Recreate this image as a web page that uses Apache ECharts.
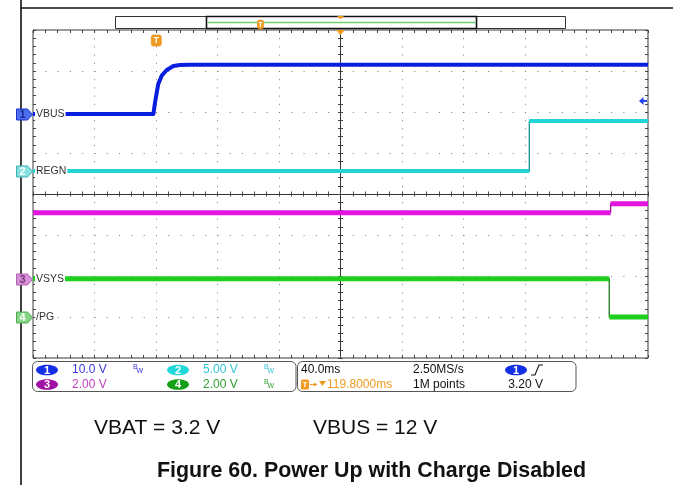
<!DOCTYPE html>
<html>
<head>
<meta charset="utf-8">
<script src="https://cdn.jsdelivr.net/npm/echarts@6/dist/echarts.min.js"></script>
<style>
  html, body { margin: 0; padding: 0; background: #fff; }
  #scope { width: 673px; height: 485px; }
</style>
</head>
<body>
<div id="scope"></div>
<script>
// Horizontal: time in ms relative to screen centre, 40 ms/div over 10 divisions.
const timeMin = -200, timeMax = 200, timePerDiv = 40;
// Vertical: 8 divisions, channel data mapped through V/div and offset (div).
const divMin = -4, divMax = 4;

const chNames   = ['VBUS', 'REGN', 'VSYS', '/PG'];
const chNumbers = ['1', '2', '3', '4'];
const chVoltsPerDiv = [10, 5, 2, 2];
const chOffsetDiv   = [1.95, 0.56, -2.07, -3.0];
const chScaleText   = ['10.0 V', '5.00 V', '2.00 V', '2.00 V'];
const chBandwidthLimit = [true, true, false, true];

// CH1 VBUS (V)
const vbusTime = [-200, -121.7, -120.6, -119.5, -118.5, -116.3, -113.0, -108.7, -104.4, -98.0, 200];
const vbusVolt = [0, 0, 2.87, 5.3, 7.34, 9.36, 10.75, 11.72, 11.95, 12.0, 12.0];
// CH2 REGN (V)
const regnTime = [-200, 122.8, 122.8, 200];
const regnVolt = [0, 0, 6.1, 6.1];
// CH3 VSYS (V)
const vsysTime = [-200, 175.7, 175.7, 200];
const vsysVolt = [3.23, 3.23, 3.67, 3.67];
// CH4 /PG (V)
const pgTime = [-200, 174.8, 174.8, 200];
const pgVolt = [1.87, 1.87, 0, 0];

// Acquisition / trigger settings
const timebaseText = '40.0ms';
const sampleRateText = '2.50MS/s';
const recordText = '1M points';
const triggerTime = -119.8;         // ms from centre
const triggerDelayText = '119.8000ms';
const triggerLevel = 3.2;           // V on CH1
const triggerLevelText = '3.20 V';

const noteVbat = 'VBAT = 3.2 V';
const noteVbus = 'VBUS = 12 V';
const figureTitle = 'Figure 60. Power Up with Charge Disabled';

const traceColor = ['#0a1ee0', '#22d4d4', '#e016e0', '#1ecf1e'];
const edgeColor  = ['#0a1490', '#178c8c', '#8e108e', '#177a17'];
const badgeFill  = ['#1430e6', '#22d8d8', '#a012a4', '#14a014'];
const scaleColor = ['#3838e0', '#30c6d6', '#c040c4', '#30a030'];
const markerFill = ['#4d6ef0', '#86e0e0', '#d890d8', '#86d486'];
const markerLine = ['#1a30c8', '#3ab0b0', '#b060b0', '#50a850'];
const markerText = ['#1a2a90', '#ffffff', '#7a3a7a', '#ffffff'];
const orange = '#f29a1e';
const FONT = '"Liberation Sans", Arial, sans-serif';

function toDiv(ch, v) { return v / chVoltsPerDiv[ch] + chOffsetDiv[ch]; }
function trace(ch, ts, vs) { return ts.map((t, i) => [t, toDiv(ch, vs[i])]); }
// Same path with a gap at each vertical edge (edges drawn thin separately)
function levels(ch, ts, vs) {
  const out = [];
  ts.forEach((t, i) => {
    if (i > 0 && t === ts[i - 1]) out.push([t, '-']);
    out.push([t, toDiv(ch, vs[i])]);
  });
  return out;
}

const chart = echarts.init(document.getElementById('scope'), null, { renderer: 'canvas' });

const hidden = { show: false };
function xAx(extra) {
  return Object.assign({
    type: 'value', min: timeMin, max: timeMax, interval: timePerDiv,
    axisLabel: hidden, splitLine: hidden
  }, extra);
}
function yAx(extra) {
  return Object.assign({
    type: 'value', min: divMin, max: divMax, interval: 1,
    axisLabel: hidden, splitLine: hidden
  }, extra);
}
const tickStyle = { color: '#444', width: 1 };

const option = {
  animation: false,
  backgroundColor: '#fff',
  grid: {
    left: 33, right: 25, top: 30, bottom: 127,
    show: true, borderColor: '#3a3a3a', borderWidth: 1, backgroundColor: '#fff'
  },
  xAxis: [
    // bottom border ticks + dotted vertical graticule
    xAx({ position: 'bottom', axisLine: { show: false, onZero: false },
      axisTick: { show: true, inside: true, length: 3, lineStyle: tickStyle },
      minorTick: { show: true, splitNumber: 5, length: 3, lineStyle: tickStyle },
      splitLine: { show: true, lineStyle: { color: '#7a7a7a', width: 1, type: [1, 7.2] } } }),
    // top border ticks
    xAx({ position: 'top', axisLine: { show: false, onZero: false },
      axisTick: { show: true, inside: true, length: 3, lineStyle: tickStyle },
      minorTick: { show: true, splitNumber: 5, length: 3, lineStyle: tickStyle } }),
    // centre horizontal line, ticks both sides
    xAx({ position: 'bottom', axisLine: { show: true, onZero: true, onZeroAxisIndex: 0, lineStyle: { color: '#333', width: 1 } },
      axisTick: { show: true, inside: true, length: 2.5, lineStyle: tickStyle },
      minorTick: { show: true, splitNumber: 5, length: 2.5, lineStyle: tickStyle } }),
    xAx({ position: 'bottom', axisLine: { show: false, onZero: true, onZeroAxisIndex: 0 },
      axisTick: { show: true, inside: false, length: 2.5, lineStyle: tickStyle },
      minorTick: { show: true, splitNumber: 5, length: 2.5, lineStyle: tickStyle } })
  ],
  yAxis: [
    yAx({ position: 'left', axisLine: { show: false, onZero: false },
      axisTick: { show: true, inside: true, length: 3, lineStyle: tickStyle },
      minorTick: { show: true, splitNumber: 5, length: 3, lineStyle: tickStyle },
      splitLine: { show: true, lineStyle: { color: '#7a7a7a', width: 1, type: [1, 11.3] } } }),
    yAx({ position: 'right', axisLine: { show: false, onZero: false },
      axisTick: { show: true, inside: true, length: 3, lineStyle: tickStyle },
      minorTick: { show: true, splitNumber: 5, length: 3, lineStyle: tickStyle } }),
    yAx({ position: 'left', axisLine: { show: true, onZero: true, onZeroAxisIndex: 0, lineStyle: { color: '#333', width: 1 } },
      axisTick: { show: true, inside: true, length: 2.5, lineStyle: tickStyle },
      minorTick: { show: true, splitNumber: 5, length: 2.5, lineStyle: tickStyle } }),
    yAx({ position: 'left', axisLine: { show: false, onZero: true, onZeroAxisIndex: 0 },
      axisTick: { show: true, inside: false, length: 2.5, lineStyle: tickStyle },
      minorTick: { show: true, splitNumber: 5, length: 2.5, lineStyle: tickStyle } })
  ],
  series: []
};

const traces = [
  [vbusTime, vbusVolt], [regnTime, regnVolt], [vsysTime, vsysVolt], [pgTime, pgVolt]
];
const traceWidth = [4, 4, 5, 5];
traces.forEach(([ts, vs], ch) => {
  option.series.push({
    name: chNames[ch] + ' edge', type: 'line', xAxisIndex: 0, yAxisIndex: 0,
    data: trace(ch, ts, vs), symbol: 'none', z: 3,
    lineStyle: { color: edgeColor[ch], width: 1.3 }
  });
  option.series.push({
    name: chNames[ch], type: 'line', xAxisIndex: 0, yAxisIndex: 0,
    data: ch === 0 ? trace(ch, ts, vs) : levels(ch, ts, vs),
    symbol: 'none', connectNulls: false, z: 4,
    lineStyle: { color: traceColor[ch], width: traceWidth[ch], cap: 'butt', join: 'round' }
  });
});

chart.setOption(option);

// ---- Decorations positioned from the chart's own coordinate system ----
const px = (t, d) => chart.convertToPixel({ gridIndex: 0 }, [t, d]);
const g = [];
const leftX = px(timeMin, 0)[0];
const rightX = px(timeMax, 0)[0];
const topY = px(0, divMax)[1];
const centreX = px(0, 0)[0];

// Page frame lines
g.push({ type: 'line', shape: { x1: 21, y1: 0, x2: 21, y2: 485 }, style: { stroke: '#111', lineWidth: 1.6 }, z: 20 });
g.push({ type: 'line', shape: { x1: 21, y1: 8, x2: 673, y2: 8 }, style: { stroke: '#111', lineWidth: 1.6 }, z: 20 });

// Channel ground markers and names
chNames.forEach((name, ch) => {
  const y = Math.round(px(timeMin, chOffsetDiv[ch])[1]) + 0.5;
  const x0 = 16.5;
  g.push({ type: 'polygon', z: 20,
    shape: { points: [[x0, y - 5.5], [x0 + 11, y - 5.5], [x0 + 16, y], [x0 + 11, y + 5.5], [x0, y + 5.5]] },
    style: { fill: markerFill[ch], stroke: markerLine[ch], lineWidth: 1 } });
  g.push({ type: 'text', z: 21, x: x0 + 6, y: y,
    style: { text: chNumbers[ch], font: 'bold 11px ' + FONT, fill: markerText[ch], align: 'center', verticalAlign: 'middle' } });
  g.push({ type: 'text', z: 21, x: leftX + 2, y: y,
    style: { text: name, font: '10.5px ' + FONT, fill: '#333', align: 'left', verticalAlign: 'middle',
      backgroundColor: '#fff', padding: [1, 1, 1, 1] } });
});

// Trigger level arrow on the right edge (CH1)
{
  const y = px(timeMax, chOffsetDiv[0] + triggerLevel / chVoltsPerDiv[0])[1];
  g.push({ type: 'polygon', z: 22, shape: { points: [[rightX - 9, y], [rightX - 4.5, y - 4], [rightX - 4.5, y + 4]] },
    style: { fill: '#2040f0' } });
  g.push({ type: 'line', z: 22, shape: { x1: rightX - 5, y1: y, x2: rightX - 1, y2: y }, style: { stroke: '#2040f0', lineWidth: 2 } });
}

// Trigger position marker on the graticule
function tMarker(cx, y0, h, w) {
  g.push({ type: 'rect', z: 22, shape: { x: cx - w / 2, y: y0, width: w, height: h, r: 2 },
    style: { fill: orange, stroke: '#e08a10', lineWidth: 0.6 } });
  g.push({ type: 'text', z: 23, x: cx, y: y0 + h / 2 + 0.5,
    style: { text: 'T', font: 'bold ' + (h - 2) + 'px ' + FONT, fill: '#fff', align: 'center', verticalAlign: 'middle' } });
}
tMarker(px(triggerTime, 0)[0], 35, 11, 10);
// centre (horizontal position) marker
g.push({ type: 'polygon', z: 22, shape: { points: [[centreX - 4.5, topY], [centreX + 4.5, topY], [centreX, topY + 5]] }, style: { fill: orange } });

// Record overview bar
g.push({ type: 'rect', z: 20, shape: { x: 115.5, y: 16.5, width: 450, height: 12 }, style: { fill: '#fff', stroke: '#333', lineWidth: 1 } });
g.push({ type: 'rect', z: 21, shape: { x: 206.5, y: 16.5, width: 270, height: 12 }, style: { fill: '#fff', stroke: '#111', lineWidth: 1.6 } });
g.push({ type: 'line', z: 22, shape: { x1: 208, y1: 22.5, x2: 475, y2: 22.5 }, style: { stroke: '#6ad46a', lineWidth: 1.6 } });
g.push({ type: 'polygon', z: 23, shape: { points: [[centreX - 3.5, 16], [centreX + 3.5, 16], [centreX, 19.5]] }, style: { fill: orange } });
tMarker(260.5, 20, 9, 6);

// Readout panels
g.push({ type: 'rect', z: 20, shape: { x: 32.5, y: 361.5, width: 263.5, height: 30, r: 5 }, style: { fill: '#fff', stroke: '#555', lineWidth: 1 } });
g.push({ type: 'rect', z: 20, shape: { x: 297.5, y: 361.5, width: 278.5, height: 30, r: 5 }, style: { fill: '#fff', stroke: '#555', lineWidth: 1 } });

const rowY = [370, 384.5];
const colX = [47, 178];
function badge(cx, cy, fill, num) {
  g.push({ type: 'ellipse', z: 21, shape: { cx: cx, cy: cy, rx: 11, ry: 5.3 }, style: { fill: fill } });
  g.push({ type: 'text', z: 22, x: cx, y: cy + 0.5, style: { text: num, font: 'bold 11px ' + FONT, fill: '#fff', align: 'center', verticalAlign: 'middle' } });
}
function txt(x, y, s, color, size, align, weight) {
  g.push({ type: 'text', z: 22, x: x, y: y, style: { text: s, font: (weight || '') + ' ' + size + 'px ' + FONT, fill: color, align: align || 'left', verticalAlign: 'middle' } });
}
chNames.forEach((name, ch) => {
  const col = (ch === 0 || ch === 2) ? 0 : 1;
  const row = ch < 2 ? 0 : 1;
  const bx = colX[col], by = rowY[row];
  badge(bx, by, badgeFill[ch], chNumbers[ch]);
  txt(bx + 25, by, chScaleText[ch], scaleColor[ch], 12);
  if (chBandwidthLimit[ch]) {
    txt(bx + 86, by - 2.5, 'B', scaleColor[ch], 7);
    txt(bx + 89.5, by + 1.5, 'W', scaleColor[ch], 7);
  }
});

txt(301, rowY[0], timebaseText, '#111', 12);
txt(413, rowY[0], sampleRateText, '#111', 12);
txt(413, rowY[1], recordText, '#111', 12);
badge(516, rowY[0], badgeFill[0], '1');
g.push({ type: 'polyline', z: 22, shape: { points: [[531, 375], [535, 375], [539, 365], [543, 365]] }, style: { stroke: '#111', lineWidth: 1.1, fill: null } });
txt(543, rowY[1], triggerLevelText, '#111', 12, 'right');
// trigger delay readout
g.push({ type: 'rect', z: 21, shape: { x: 301, y: 379.5, width: 8, height: 10, r: 1.5 }, style: { fill: orange } });
g.push({ type: 'text', z: 22, x: 305, y: 385, style: { text: 'T', font: 'bold 8px ' + FONT, fill: '#fff', align: 'center', verticalAlign: 'middle' } });
g.push({ type: 'line', z: 22, shape: { x1: 310, y1: 384.5, x2: 316, y2: 384.5 }, style: { stroke: orange, lineWidth: 1.2 } });
g.push({ type: 'polygon', z: 22, shape: { points: [[314, 382.5], [317.5, 384.5], [314, 386.5]] }, style: { fill: orange } });
g.push({ type: 'polygon', z: 22, shape: { points: [[319, 381], [326, 381], [322.5, 386]] }, style: { fill: orange } });
txt(327, rowY[1], triggerDelayText, orange, 12);

// Notes and caption
txt(94, 428, noteVbat, '#111', 21);
txt(313, 428, noteVbus, '#111', 21);
g.push({ type: 'text', z: 22, x: 371.5, y: 471.5,
  style: { text: figureTitle, font: 'bold 21.4px ' + FONT, fill: '#111', align: 'center', verticalAlign: 'middle' } });

chart.setOption({ graphic: { elements: g } });
</script>
</body>
</html>
